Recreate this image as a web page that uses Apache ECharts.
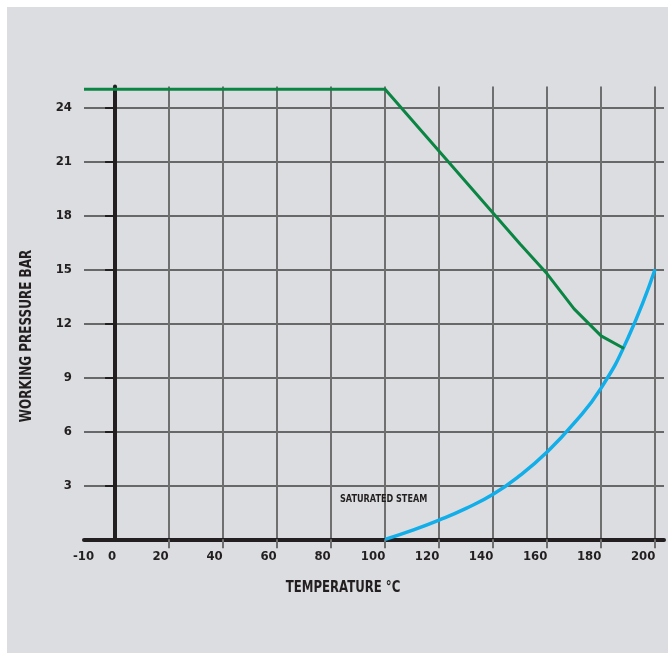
<!DOCTYPE html>
<html>
<head>
<meta charset="utf-8">
<script src="https://cdn.jsdelivr.net/npm/echarts@6/dist/echarts.min.js"></script>
<style>
  html, body { margin: 0; padding: 0; background: #ffffff; }
  #chart { width: 668px; height: 654px; }
</style>
</head>
<body>
<div id="chart"></div>
<script>
// Axis ticks and labels
const temperatureTicks = [20, 40, 60, 80, 100, 120, 140, 160, 180, 200];
const temperatureLabels = [-10, 0, 20, 40, 60, 80, 100, 120, 140, 160, 180, 200];
const pressureTicks = [3, 6, 9, 12, 15, 18, 21, 24];

// Maximum working pressure (bar) against temperature (°C)
const maxWorkingPressure = [
  [-11.5, 25], [100, 25], [150, 16.4], [160, 14.75], [170, 12.8], [180, 11.3], [188.5, 10.6]
];

// Saturated steam pressure curve (bar) against temperature (°C)
const saturatedSteam = [
  [100, 0], [110, 0.5], [120, 1.07], [130, 1.72], [140, 2.5], [150, 3.55],
  [160, 4.85], [170, 6.45], [180, 8.4], [190, 11.2], [200, 15]
];

const FONT = '"DejaVu Sans Condensed", "DejaVu Sans", sans-serif';
const INK = '#231f20';

const chart = echarts.init(document.getElementById('chart'), null, { renderer: 'canvas' });

function xLabelStyle(v) {
  if (v < 0) return 'm';
  if (v === 0) return 'z';
  if (v < 100) return 'd';
  return 't';
}

const tickFont = { fontFamily: FONT, fontWeight: 'bold', fontSize: 13, color: INK };

chart.setOption({
  animation: false,
  backgroundColor: '#ffffff',
  graphic: [
    {
      type: 'rect', z: -10, silent: true,
      shape: { x: 7, y: 7, width: 661, height: 646 },
      style: { fill: '#dcdde0' }
    },
    {
      type: 'text', silent: true, z: 10,
      x: 343, y: 588, scaleX: 0.87,
      style: {
        text: 'TEMPERATURE °C', fill: INK, font: 'bold 15px ' + FONT,
        align: 'center', verticalAlign: 'middle'
      }
    },
    {
      type: 'text', silent: true, z: 10,
      x: 27, y: 336, rotation: Math.PI / 2, scaleX: 0.86,
      style: {
        text: 'WORKING PRESSURE BAR', fill: INK, font: 'bold 15.5px ' + FONT,
        align: 'center', verticalAlign: 'middle'
      }
    },
    {
      type: 'text', silent: true, z: 10,
      x: 340, y: 499, scaleX: 0.82,
      style: {
        text: 'SATURATED STEAM', fill: INK, font: 'bold 11px ' + FONT,
        align: 'left', verticalAlign: 'middle'
      }
    }
  ],
  grid: { left: 84, right: 4, top: 86.6, bottom: 114.7, containLabel: false },
  xAxis: {
    type: 'value',
    min: -11.5,
    max: 203.3,
    axisLine: { show: true, onZero: true, lineStyle: { color: INK, width: 4 } },
    axisTick: {
      show: true, length: 9, customValues: temperatureTicks,
      lineStyle: { color: '#6f6f6f', width: 2 }
    },
    splitLine: { show: true, lineStyle: { color: '#6f6f6f', width: 2 } },
    axisLabel: Object.assign({
      customValues: temperatureLabels,
      margin: 11,
      formatter: function (v) { return '{' + xLabelStyle(v) + '|' + v + '}'; },
      rich: {
        m: Object.assign({ padding: [0, 9, 0, 0] }, tickFont),
        z: Object.assign({ padding: [0, 6, 0, 0] }, tickFont),
        d: Object.assign({ padding: [0, 17, 0, 0] }, tickFont),
        t: Object.assign({ padding: [0, 24, 0, 0] }, tickFont)
      }
    }, tickFont)
  },
  yAxis: {
    type: 'value',
    min: 0,
    max: 25.15,
    axisLine: { show: true, onZero: true, lineStyle: { color: INK, width: 4 } },
    axisTick: {
      show: true, length: 10, customValues: pressureTicks,
      lineStyle: { color: INK, width: 2 }
    },
    splitLine: { show: true, lineStyle: { color: '#404040', width: 1.5 } },
    axisLabel: Object.assign({
      customValues: pressureTicks,
      margin: 12
    }, tickFont)
  },
  series: [
    {
      name: 'Saturated steam',
      type: 'line',
      data: saturatedSteam,
      smooth: 0.5,
      showSymbol: false,
      lineStyle: { color: '#12aee9', width: 3.5 },
      z: 3
    },
    {
      name: 'Maximum working pressure',
      type: 'line',
      data: maxWorkingPressure,
      showSymbol: false,
      lineStyle: { color: '#0b8543', width: 3 },
      z: 4
    }
  ]
});
</script>
</body>
</html>
